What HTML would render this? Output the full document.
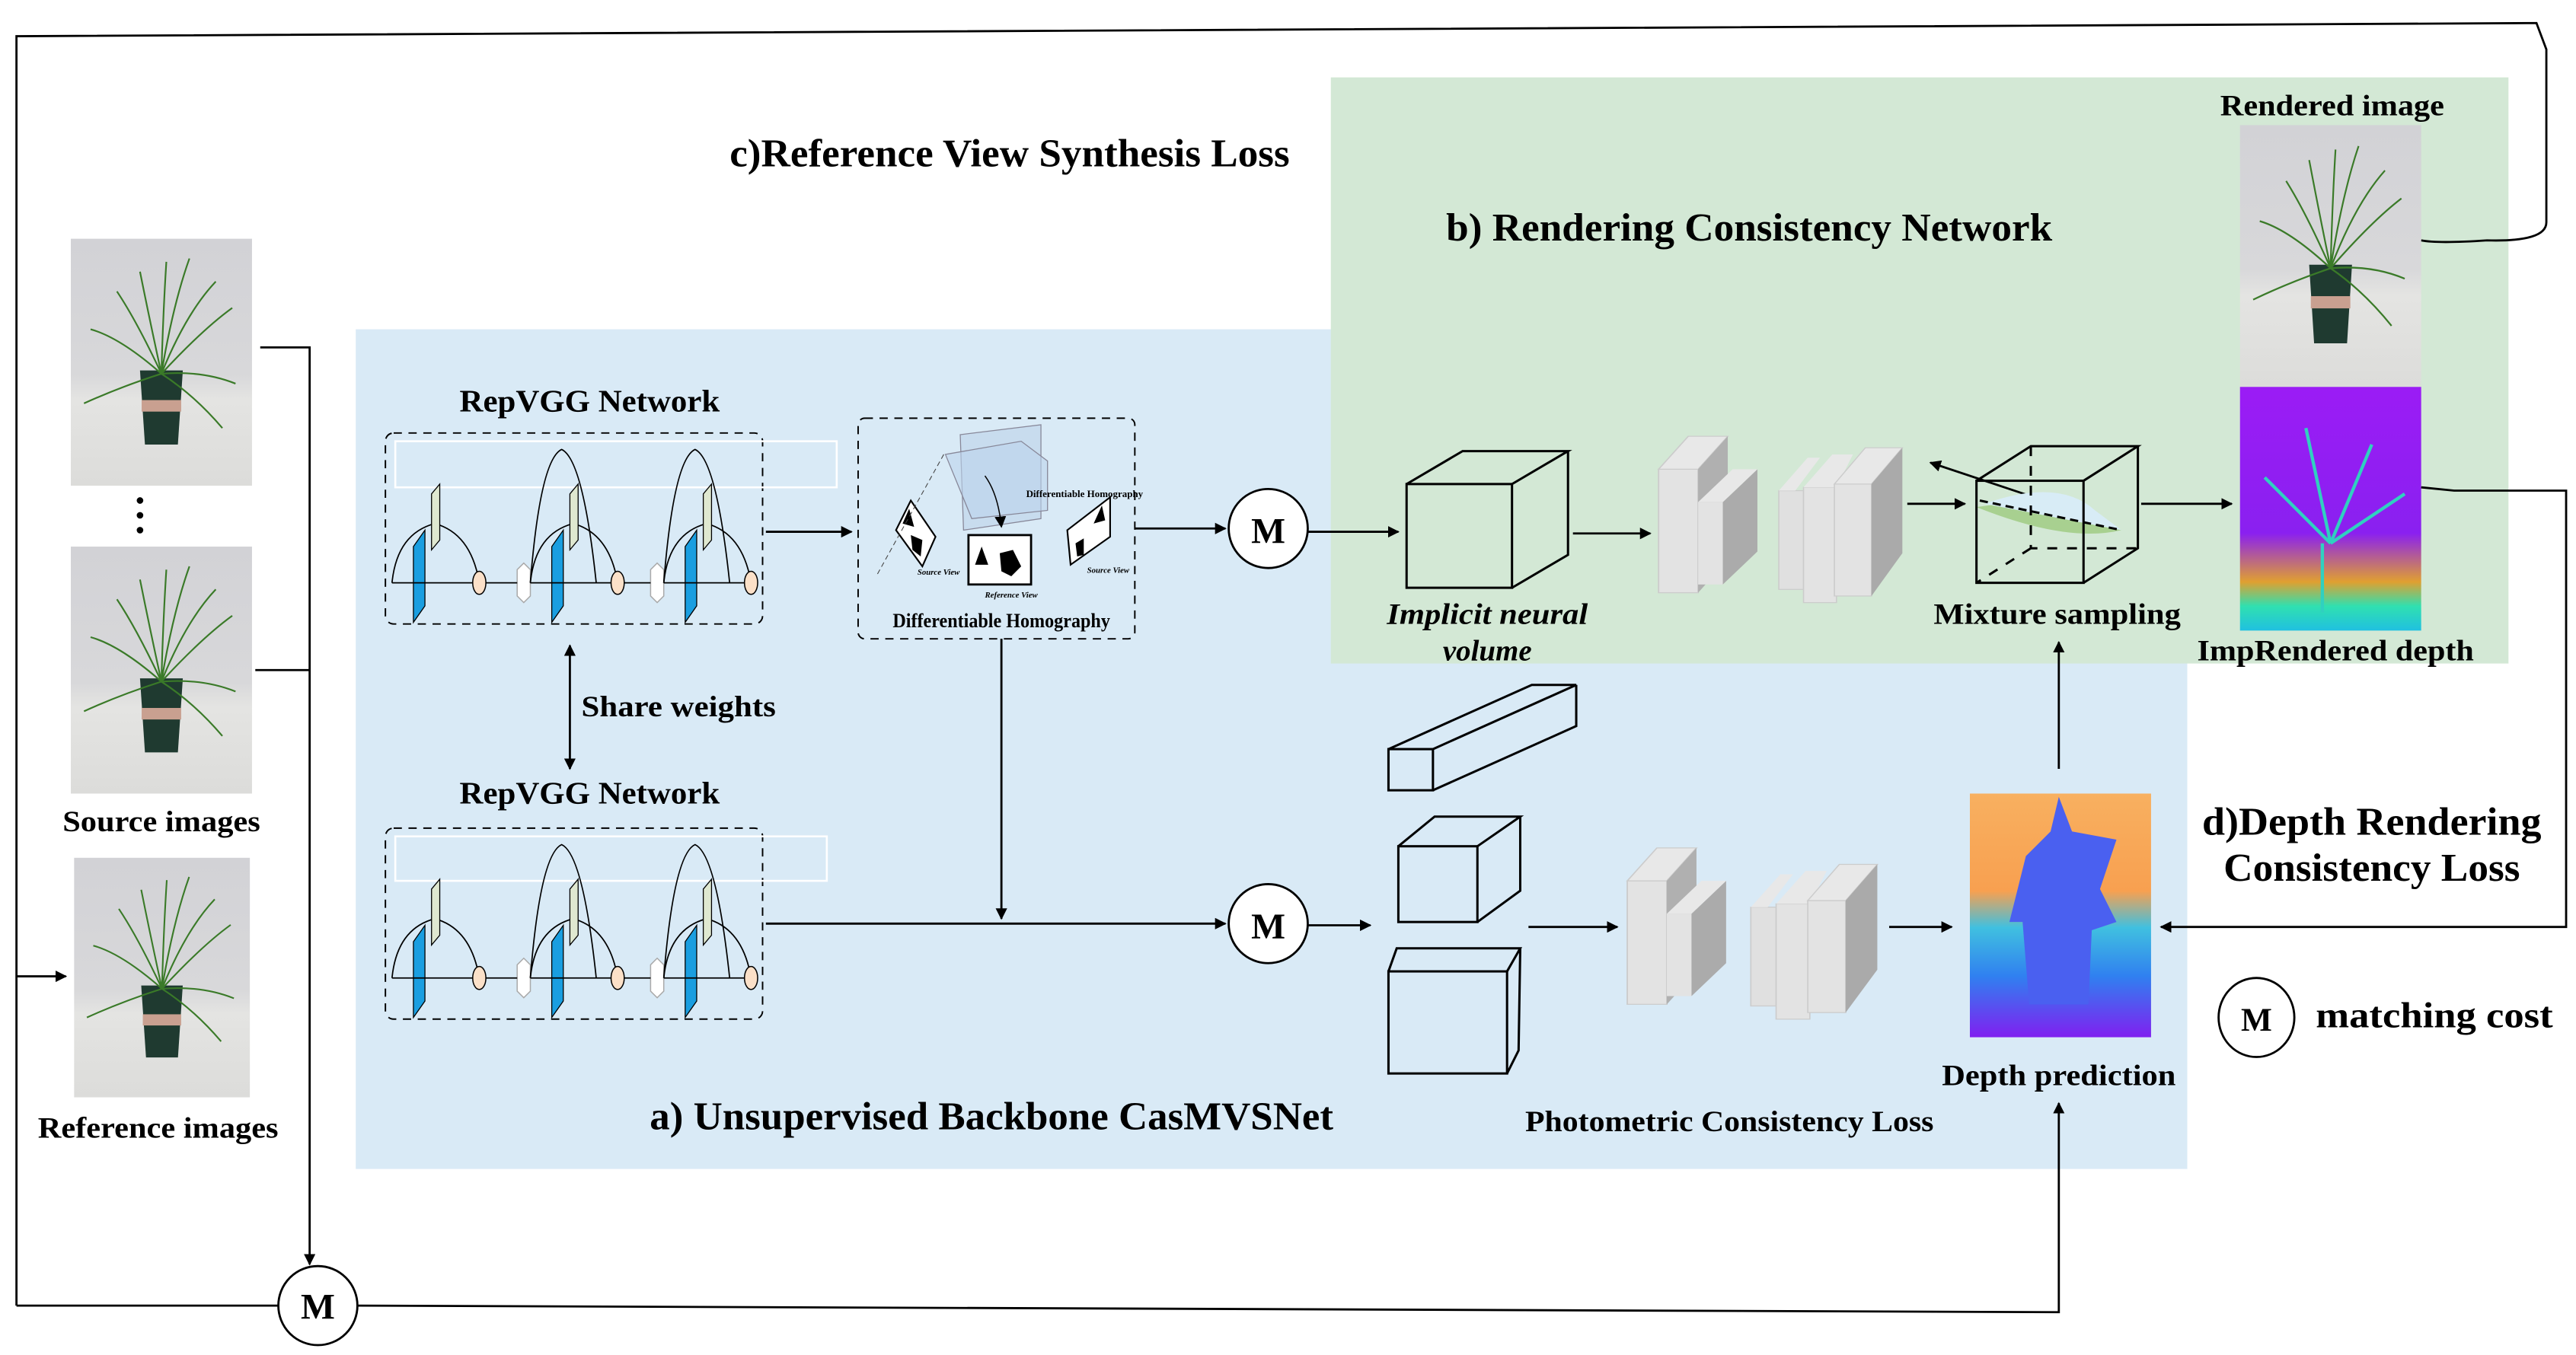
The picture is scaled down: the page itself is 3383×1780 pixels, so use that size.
<!DOCTYPE html>
<html><head><meta charset="utf-8"><style>html,body{margin:0;padding:0;background:#fff}svg{display:block}text{font-family:"Liberation Serif",serif;font-weight:bold;fill:#000}</style></head>
<body>
<svg width="3383" height="1780" viewBox="0 0 1564 823" preserveAspectRatio="none" xmlns="http://www.w3.org/2000/svg">
<defs>
<marker id="a" viewBox="0 0 10 10" refX="9" refY="5" markerWidth="7" markerHeight="7" orient="auto-start-reverse" markerUnits="userSpaceOnUse"><path d="M0,0L10,5L0,10z" fill="#000"/></marker>
<linearGradient id="gd" x1="0" y1="0" x2="0" y2="1"><stop offset="0" stop-color="#9b1cf5"/><stop offset="0.6" stop-color="#8a20f0"/><stop offset="0.8" stop-color="#e0a030"/><stop offset="0.9" stop-color="#30e0b0"/><stop offset="1" stop-color="#20c0e0"/></linearGradient>
<linearGradient id="dp" x1="0" y1="0" x2="0" y2="1"><stop offset="0" stop-color="#f8b060"/><stop offset="0.4" stop-color="#f8a050"/><stop offset="0.55" stop-color="#40c0e0"/><stop offset="0.75" stop-color="#3080f0"/><stop offset="1" stop-color="#8020f0"/></linearGradient>
<linearGradient id="bg" x1="0" y1="0" x2="0" y2="1"><stop offset="0" stop-color="#d2d2d6"/><stop offset="0.55" stop-color="#d8d8da"/><stop offset="0.65" stop-color="#e4e4e2"/><stop offset="1" stop-color="#dcdcda"/></linearGradient>
<g id="blk">
<path d="M0,0 Q3,-30 26,-36 Q48,-30 53,0" fill="none" stroke="#000" stroke-width="0.8"/>
<path d="M13,-22 L20,-32 L20,14 L13,24z" fill="#1a9ee0" stroke="#000" stroke-width="0.6"/>
<path d="M24,-54 L29,-60 L29,-26 L24,-20z" fill="#dfe8d0" stroke="#000" stroke-width="0.6"/>
<ellipse cx="53" cy="0" rx="4" ry="7" fill="#fbe0c8" stroke="#000" stroke-width="0.7"/>
<line x1="0" y1="0" x2="49" y2="0" stroke="#000" stroke-width="0.8"/>
</g>
<g id="blk2">
<path d="M0,0 Q6,-75 19,-81 Q32,-75 40,0" fill="none" stroke="#000" stroke-width="0.8"/>
<use href="#blk"/>
</g>
<g id="rep">
<use href="#blk"/>
<path d="M76,-8 L80,-12 L84,-8 L84,8 L80,12 L76,8z" fill="#fff" stroke="#aaa" stroke-width="0.7"/>
<line x1="57" y1="0" x2="76" y2="0" stroke="#000" stroke-width="0.8"/>
<g transform="translate(84,0)"><use href="#blk2"/></g>
<path d="M157,-8 L161,-12 L165,-8 L165,8 L161,12 L157,8z" fill="#fff" stroke="#aaa" stroke-width="0.7"/>
<line x1="141" y1="0" x2="157" y2="0" stroke="#000" stroke-width="0.8"/>
<g transform="translate(165,0)"><use href="#blk2"/></g>
</g>
<g id="slab1">
<rect x="0" y="20" width="16" height="75" fill="#e3e3e3" stroke="#ccc" stroke-width="0.6"/>
<path d="M0,20 L12,0 L28,0 L16,20z" fill="#e8e8e8" stroke="#ccc" stroke-width="0.6"/>
<path d="M16,20 L28,0 L28,75 L16,95z" fill="#b0b0b0"/>
<rect x="16" y="40" width="10" height="50" fill="#e3e3e3"/>
<path d="M26,40 L40,20 L40,70 L26,90z" fill="#ababab"/>
<path d="M16,40 L30,20 L40,20 L26,40z" fill="#e8e8e8"/>
</g>
<g id="slab2">
<rect x="0" y="30" width="12" height="60" fill="#e0e0e0" stroke="#ccc" stroke-width="0.6"/>
<path d="M0,30 L14,10 L20,10 L8,30z" fill="#e8e8e8"/>
<rect x="12" y="28" width="16" height="70" fill="#e3e3e3" stroke="#ccc" stroke-width="0.6"/>
<path d="M12,28 L26,8 L36,8 L28,28z" fill="#e8e8e8"/>
<rect x="27" y="26" width="18" height="68" fill="#e3e3e3" stroke="#ccc" stroke-width="0.6"/>
<path d="M27,26 L42,4 L60,4 L45,26z" fill="#e8e8e8" stroke="#ccc" stroke-width="0.6"/>
<path d="M45,26 L60,4 L60,68 L45,94z" fill="#aaaaaa"/>
</g>
<g id="plant">
<rect x="0" y="0" width="110" height="150" fill="url(#bg)"/>
<path d="M42,80 L68,80 L65,125 L45,125z" fill="#1f3a30"/>
<rect x="43" y="98" width="24" height="7" fill="#c9a090"/>
<g stroke="#3a7a28" stroke-width="1" fill="none">
<path d="M55,82 Q48,50 42,20"/><path d="M55,82 Q62,40 72,12"/><path d="M55,82 Q80,55 98,42"/><path d="M55,82 Q30,60 12,55"/><path d="M55,82 Q30,90 8,100"/><path d="M55,82 Q80,80 100,88"/><path d="M55,82 Q40,50 28,32"/><path d="M55,82 Q70,45 88,26"/><path d="M55,82 Q56,45 58,14"/><path d="M55,82 Q75,95 92,115"/>
</g>
</g>
</defs>

<!-- panels -->
<rect x="216" y="200" width="1112" height="510" fill="#d9eaf6"/>
<rect x="808" y="47" width="715" height="356" fill="#d3e8d5"/>

<!-- outer loop -->
<path d="M10,793 L10,22 L1540,14 L1546,30 L1546,135 Q1546,147 1510,146 Q1480,148 1470,146" fill="none" stroke="#000" stroke-width="1.3"/>
<path d="M10,793 L169,793" fill="none" stroke="#000" stroke-width="1.3"/>
<line x1="10" y1="593" x2="40" y2="593" stroke="#000" stroke-width="1.3" marker-end="url(#a)"/>
<path d="M217,793 L1250,797 L1250,670" fill="none" stroke="#000" stroke-width="1.3" marker-end="url(#a)"/>
<circle cx="193" cy="793" r="24" fill="#fff" stroke="#000" stroke-width="1.3"/>
<text x="193" y="801" font-size="22" text-anchor="middle" font-weight="normal">M</text>

<!-- images left -->
<g transform="translate(43,145)"><use href="#plant"/></g>
<circle cx="85" cy="304" r="2" fill="#000"/><circle cx="85" cy="313" r="2" fill="#000"/><circle cx="85" cy="322" r="2" fill="#000"/>
<g transform="translate(43,332)"><use href="#plant"/></g>
<g transform="translate(45,521) scale(0.97,0.97)"><use href="#plant"/></g>
<text x="98" y="505" font-size="18" text-anchor="middle" textLength="120" lengthAdjust="spacingAndGlyphs">Source images</text>
<text x="96" y="691" font-size="18" text-anchor="middle" textLength="146" lengthAdjust="spacingAndGlyphs">Reference images</text>
<path d="M158,211 L188,211 L188,768" fill="none" stroke="#000" stroke-width="1.3" marker-end="url(#a)"/>
<line x1="155" y1="407" x2="188" y2="407" stroke="#000" stroke-width="1.3"/>

<!-- titles -->
<text x="613" y="101" font-size="24" text-anchor="middle" textLength="340" lengthAdjust="spacingAndGlyphs">c)Reference View Synthesis Loss</text>
<text x="1062" y="146" font-size="24" text-anchor="middle" textLength="368" lengthAdjust="spacingAndGlyphs">b) Rendering Consistency Network</text>
<text x="602" y="686" font-size="24" text-anchor="middle" textLength="415" lengthAdjust="spacingAndGlyphs">a) Unsupervised Backbone CasMVSNet</text>
<text x="1440" y="507" font-size="24" text-anchor="middle" textLength="206" lengthAdjust="spacingAndGlyphs">d)Depth Rendering</text>
<text x="1440" y="535" font-size="24" text-anchor="middle" textLength="180" lengthAdjust="spacingAndGlyphs">Consistency Loss</text>

<!-- RepVGG -->
<text x="358" y="250" font-size="19" text-anchor="middle" textLength="158" lengthAdjust="spacingAndGlyphs">RepVGG Network</text>
<text x="358" y="488" font-size="19" text-anchor="middle" textLength="158" lengthAdjust="spacingAndGlyphs">RepVGG Network</text>
<rect x="234" y="263" width="229" height="116" rx="5" fill="none" stroke="#000" stroke-width="0.9" stroke-dasharray="5,4"/>
<rect x="240" y="268" width="268" height="28" fill="none" stroke="#fff" stroke-width="1.2"/>
<g transform="translate(238,354)"><use href="#rep"/></g>
<rect x="234" y="503" width="229" height="116" rx="5" fill="none" stroke="#000" stroke-width="0.9" stroke-dasharray="5,4"/>
<rect x="240" y="508" width="262" height="27" fill="none" stroke="#fff" stroke-width="1.2"/>
<g transform="translate(238,594)"><use href="#rep"/></g>
<line x1="346" y1="392" x2="346" y2="467" stroke="#000" stroke-width="1.3" marker-start="url(#a)" marker-end="url(#a)"/>
<text x="412" y="435" font-size="18" text-anchor="middle" textLength="118" lengthAdjust="spacingAndGlyphs">Share weights</text>

<!-- homography -->
<line x1="465" y1="323" x2="517" y2="323" stroke="#000" stroke-width="1.3" marker-end="url(#a)"/>
<rect x="521" y="254" width="168" height="134" rx="4" fill="none" stroke="#000" stroke-width="0.9" stroke-dasharray="5,4"/>
<path d="M583,264 L632,258 L632,315 L585,322z" fill="#c8dcee" stroke="#889" stroke-width="0.6"/>
<path d="M574,276 L620,268 L636,280 L636,310 L590,315z" fill="#bcd4ec" fill-opacity="0.6" stroke="#889" stroke-width="0.6"/>
<path d="M544,322 L553,304 L568,326 L560,344z" fill="#fff" stroke="#000" stroke-width="1"/>
<path d="M548,318 L552,309 L555,320z M553,325 L560,328 L559,338 L554,334z" fill="#000"/>
<rect x="588" y="325" width="38" height="30" fill="#fff" stroke="#000" stroke-width="1.3"/>
<path d="M592,343 L596,332 L600,343z M607,336 L615,334 L620,344 L614,350 L608,347z" fill="#000"/>
<path d="M648,322 L674,302 L674,326 L650,343z" fill="#fff" stroke="#000" stroke-width="1"/>
<path d="M664,318 L669,307 L671,316z M653,330 L658,327 L658,337 L654,338z" fill="#000"/>
<path d="M598,289 Q606,300 608,320" fill="none" stroke="#000" stroke-width="0.7" marker-end="url(#a)"/>
<line x1="573" y1="276" x2="532" y2="350" stroke="#444" stroke-width="0.5" stroke-dasharray="3,2"/>
<text x="623" y="302" font-size="6" font-weight="normal">Differentiable Homography</text>
<text x="557" y="349" font-size="5" font-weight="normal" font-style="italic">Source View</text>
<text x="614" y="363" font-size="5" font-weight="normal" font-style="italic" text-anchor="middle">Reference View</text>
<text x="660" y="348" font-size="5" font-weight="normal" font-style="italic">Source View</text>
<text x="608" y="381" font-size="12" font-weight="normal" text-anchor="middle" textLength="132" lengthAdjust="spacingAndGlyphs">Differentiable Homography</text>
<line x1="608" y1="388" x2="608" y2="558" stroke="#000" stroke-width="1.3" marker-end="url(#a)"/>

<!-- M circles -->
<line x1="689" y1="321" x2="744" y2="321" stroke="#000" stroke-width="1.3" marker-end="url(#a)"/>
<circle cx="770" cy="321" r="24" fill="#fff" stroke="#000" stroke-width="1.3"/>
<text x="770" y="330" font-size="22" text-anchor="middle">M</text>
<line x1="794" y1="323" x2="849" y2="323" stroke="#000" stroke-width="1.3" marker-end="url(#a)"/>
<line x1="465" y1="561" x2="744" y2="561" stroke="#000" stroke-width="1.3" marker-end="url(#a)"/>
<circle cx="770" cy="561" r="24" fill="#fff" stroke="#000" stroke-width="1.3"/>
<text x="770" y="570" font-size="22" text-anchor="middle">M</text>
<line x1="794" y1="562" x2="832" y2="562" stroke="#000" stroke-width="1.3" marker-end="url(#a)"/>

<!-- implicit volume cube -->
<g fill="none" stroke="#000" stroke-width="1.4">
<rect x="854" y="294" width="64" height="63"/>
<path d="M854,294 L888,274 L952,274 L918,294 M952,274 L952,337 L918,357"/>
</g>
<text x="903" y="379" font-size="18" font-weight="normal" font-style="italic" text-anchor="middle" textLength="122" lengthAdjust="spacingAndGlyphs">Implicit neural</text>
<text x="903" y="401" font-size="18" font-weight="normal" font-style="italic" text-anchor="middle">volume</text>
<line x1="955" y1="324" x2="1002" y2="324" stroke="#000" stroke-width="1.3" marker-end="url(#a)"/>
<g transform="translate(1007,265) scale(1.5,1)"><use href="#slab1"/></g>
<g transform="translate(1080,268) scale(1.25,1)"><use href="#slab2"/></g>
<line x1="1158" y1="306" x2="1193" y2="306" stroke="#000" stroke-width="1.3" marker-end="url(#a)"/>
<line x1="1235" y1="302" x2="1172" y2="281" stroke="#000" stroke-width="1.3" marker-end="url(#a)"/>

<!-- mixture cube -->
<path d="M1200,308 Q1250,300 1288,322 Q1255,330 1200,308z" fill="#a8d090"/>
<path d="M1205,306 Q1250,290 1272,310 L1288,322z" fill="#d8ecf6"/>
<g fill="none" stroke="#000" stroke-width="1.4">
<rect x="1200" y="292" width="65" height="62"/>
<path d="M1200,292 L1233,271 L1298,271 L1265,292 M1298,271 L1298,333 L1265,354"/>
<path d="M1233,271 L1233,333 L1298,333 M1233,333 L1200,354" stroke-dasharray="6,6"/>
<line x1="1202" y1="304" x2="1288" y2="322" stroke-dasharray="5,3"/>
</g>
<text x="1249" y="379" font-size="18" text-anchor="middle" textLength="150" lengthAdjust="spacingAndGlyphs">Mixture sampling</text>
<line x1="1300" y1="306" x2="1355" y2="306" stroke="#000" stroke-width="1.3" marker-end="url(#a)"/>

<!-- rendered images -->
<text x="1416" y="70" font-size="18" text-anchor="middle" textLength="136" lengthAdjust="spacingAndGlyphs">Rendered image</text>
<g transform="translate(1360,76) scale(1,1.06)"><use href="#plant"/></g>
<rect x="1360" y="235" width="110" height="148" fill="url(#gd)"/>
<g stroke="#30d0c0" stroke-width="2" fill="none"><path d="M1415,330 L1400,260 M1415,330 L1440,270 M1415,330 L1375,290 M1415,330 L1460,300 M1410,330 L1410,372"/></g>
<text x="1418" y="401" font-size="18" text-anchor="middle" textLength="168" lengthAdjust="spacingAndGlyphs">ImpRendered depth</text>
<path d="M1470,296 L1490,298 L1558,298 L1558,563 L1312,563" fill="none" stroke="#000" stroke-width="1.3" marker-end="url(#a)"/>

<!-- lower cubes -->
<g fill="none" stroke="#000" stroke-width="1.4">
<rect x="843" y="455" width="27" height="25"/>
<path d="M843,455 L930,416 L957,416 L870,455 M957,416 L957,441 L870,480"/>
<rect x="849" y="514" width="48" height="46"/>
<path d="M849,514 L871,496 L923,496 L897,514 M923,496 L923,541 L897,560"/>
<rect x="843" y="590" width="72" height="62"/>
<path d="M843,590 L848,576 L923,576 L915,590 M923,576 L922,638 L915,652"/>
</g>
<line x1="928" y1="563" x2="982" y2="563" stroke="#000" stroke-width="1.3" marker-end="url(#a)"/>
<g transform="translate(988,515) scale(1.5,1)"><use href="#slab1"/></g>
<g transform="translate(1063,521) scale(1.28,1)"><use href="#slab2"/></g>
<line x1="1147" y1="563" x2="1185" y2="563" stroke="#000" stroke-width="1.3" marker-end="url(#a)"/>
<text x="1050" y="687" font-size="18" text-anchor="middle" textLength="248" lengthAdjust="spacingAndGlyphs">Photometric Consistency Loss</text>

<!-- depth prediction -->
<rect x="1196" y="482" width="110" height="148" fill="url(#dp)"/>
<path d="M1220,560 L1230,520 L1245,505 L1250,484 L1258,505 L1285,510 L1275,540 L1285,560 L1270,565 L1268,610 L1232,610 L1228,560z" fill="#4a60f0"/>
<text x="1250" y="659" font-size="18" text-anchor="middle" textLength="142" lengthAdjust="spacingAndGlyphs">Depth prediction</text>
<line x1="1250" y1="467" x2="1250" y2="390" stroke="#000" stroke-width="1.3" marker-end="url(#a)"/>

<!-- legend -->
<ellipse cx="1370" cy="618" rx="23" ry="24" fill="#fff" stroke="#000" stroke-width="1.3"/>
<text x="1370" y="626" font-size="20" text-anchor="middle" font-weight="normal">M</text>
<text x="1478" y="624" font-size="22" text-anchor="middle" textLength="144" lengthAdjust="spacingAndGlyphs">matching cost</text>
</svg>
</body></html>
